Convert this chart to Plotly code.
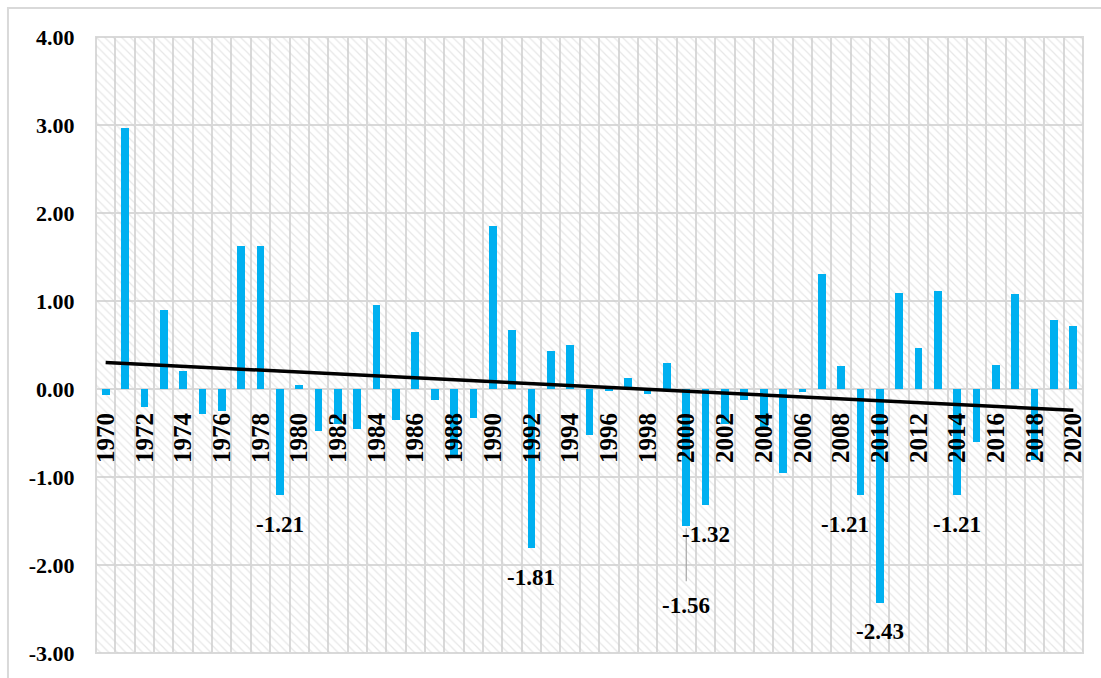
import numpy as np
import plotly.graph_objects as go

# Annual anomaly series, 1970-2020
years = list(range(1970, 2021))
values = [
    -0.07, 2.97, -0.21, 0.90, 0.20, -0.28, -0.25, 1.62, 1.62, -1.21,
    0.05, -0.48, -0.40, -0.45, 0.95, -0.35, 0.65, -0.12, -0.77, -0.33,
    1.85, 0.67, -1.81, 0.43, 0.50, -0.52, -0.02, 0.13, -0.06, 0.30,
    -1.56, -1.32, -0.40, -0.13, -0.45, -0.96, -0.03, 1.31, 0.26, -1.21,
    -2.43, 1.09, 0.47, 1.11, -1.21, -0.60, 0.27, 1.08, -0.81, 0.78,
    0.72,
]

# Years whose values are written next to the bar
labelled_years = [1979, 1992, 2000, 2001, 2009, 2010, 2014]

y_ticks = [-3, -2, -1, 0, 1, 2, 3, 4]
y_ticktext = [f"{t:.2f}" for t in y_ticks]  # plain hyphen for negatives
x_ticks = years[::2]

GRID = "#d9d9d9"
BAR = "#00b0f0"
FONT = "Liberation Serif"

# Linear trend fitted to the series
slope, intercept = np.polyfit(years, values, 1)
trend = [slope * yr + intercept for yr in years]

fig = go.Figure()

# hatched plot-area background
fig.add_trace(go.Bar(
    x=[(years[0] + years[-1]) / 2], y=[y_ticks[-1] - y_ticks[0]], base=[y_ticks[0]],
    width=[len(years)],
    marker=dict(color="rgba(0,0,0,0)", line=dict(width=0),
                pattern=dict(shape="\\", fgcolor="#cfcfcf", bgcolor="rgba(0,0,0,0)",
                             size=6, solidity=0.2)),
    hoverinfo="skip", showlegend=False,
))

fig.add_trace(go.Bar(
    x=years, y=values, width=0.4,
    marker=dict(color=BAR, line=dict(width=0)),
    showlegend=False,
))

fig.add_trace(go.Scatter(
    x=years, y=trend, mode="lines",
    line=dict(color="black", width=3.5),
    showlegend=False,
))

# value labels
for yr in labelled_years:
    v = values[years.index(yr)]
    txt = f"{v:.2f}"
    if yr == 2000:
        fig.add_annotation(
            x=yr, y=v, text=txt, showarrow=True, arrowhead=0, arrowwidth=1.2,
            arrowcolor="#a6a6a6", ax=0, ay=79, standoff=2, startstandoff=10,
            font=dict(family=FONT, size=23, color="black", weight="bold"),
        )
    else:
        fig.add_annotation(
            x=yr, y=v, text=txt, showarrow=False, yanchor="middle",
            yshift=-29, xshift=-15 if yr == 2009 else 0,
            font=dict(family=FONT, size=23, color="black", weight="bold"),
        )

# plot-area frame
fig.add_shape(type="rect", xref="x domain", yref="y domain", x0=0, x1=1, y0=0, y1=1,
              line=dict(color=GRID, width=2), layer="below")
# chart-area frame
fig.add_shape(type="rect", xref="paper", yref="paper", x0=-0.0892, x1=1.2, y0=-0.2, y1=1.047,
              line=dict(color=GRID, width=2), layer="below")

fig.update_layout(
    width=1101, height=678,
    margin=dict(l=96, r=18, t=37, b=23),
    paper_bgcolor="white", plot_bgcolor="white",
    barmode="overlay", bargap=0,
    xaxis=dict(
        range=[years[0] - 0.5, years[-1] + 0.5],
        tickmode="array", tickvals=x_ticks, ticktext=[str(t) for t in x_ticks],
        tickangle=-90, ticks="outside", ticklen=13, tickcolor="rgba(0,0,0,0)",
        tickfont=dict(family=FONT, size=25, color="black", weight="bold"),
        anchor="free", position=(0 - y_ticks[0]) / (y_ticks[-1] - y_ticks[0]),
        showline=False, zeroline=False, showgrid=False,
        minor=dict(tickmode="linear", tick0=years[0] - 0.5, dtick=1,
                   showgrid=True, gridcolor=GRID, gridwidth=2),
    ),
    yaxis=dict(
        range=[y_ticks[0], y_ticks[-1]],
        tickmode="array", tickvals=y_ticks, ticktext=y_ticktext,
        ticks="outside", ticklen=16, tickcolor="rgba(0,0,0,0)",
        tickfont=dict(family=FONT, size=22, color="black", weight="bold"),
        showgrid=True, gridcolor=GRID, gridwidth=2,
        zeroline=False, showline=False,
    ),
)

fig.write_html("out.html")
